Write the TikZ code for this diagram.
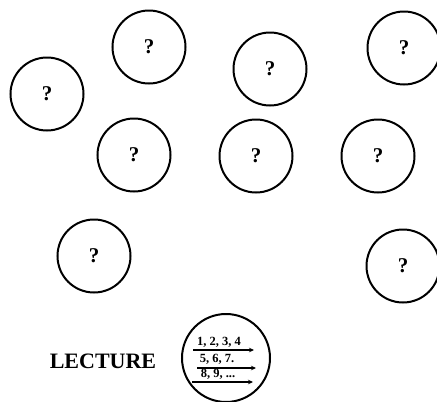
\documentclass[tikz,border=0pt]{standalone}
\usepackage{fontspec}
\setmainfont{Liberation Serif}
\usetikzlibrary{arrows.meta}
\begin{document}
\begin{tikzpicture}[x=1pt,y=-1pt,
  qcircle/.style={circle,draw,line width=2pt,minimum size=73pt,inner sep=0pt,
    font=\fontsize{21}{21}\selectfont\bfseries},
  lcircle/.style={circle,draw,line width=2pt,minimum size=88pt,inner sep=0pt},
  nums/.style={font=\fontsize{12.5}{12.5}\selectfont\bfseries,inner sep=0pt},
  seqarrow/.style={line width=1.5pt,-{Stealth[length=5pt,width=4.5pt]}}]
\useasboundingbox (0,0) rectangle (437,402);
\node[qcircle] (q1) at (47,94) {?};
\node[qcircle] (q2) at (149,47) {?};
\node[qcircle] (q3) at (270,69) {?};
\node[qcircle] (q4) at (404,48) {?};
\node[qcircle] (q5) at (134,155) {?};
\node[qcircle] (q6) at (256,156) {?};
\node[qcircle] (q7) at (378,156) {?};
\node[qcircle] (q8) at (94,256) {?};
\node[qcircle] (q9) at (403,266) {?};
\node[lcircle] (lec) at (226,358) {};
\node[font=\fontsize{22}{22}\selectfont\bfseries,inner sep=0pt] (label) at (103,361) {LECTURE};
\node[nums] (r1) at (219,342) {1, 2, 3, 4};
\node[nums] (r2) at (217,359) {5, 6, 7.};
\node[nums] (r3) at (218,374) {8, 9, ...};
\coordinate (a1s) at (193,350); \coordinate (a1e) at (254,350);
\coordinate (a2s) at (197,368); \coordinate (a2e) at (256,368);
\coordinate (a3s) at (192,382); \coordinate (a3e) at (253,382);
\draw[seqarrow] (a1s) -- (a1e);
\draw[seqarrow] (a2s) -- (a2e);
\draw[seqarrow] (a3s) -- (a3e);
\end{tikzpicture}
\end{document}
